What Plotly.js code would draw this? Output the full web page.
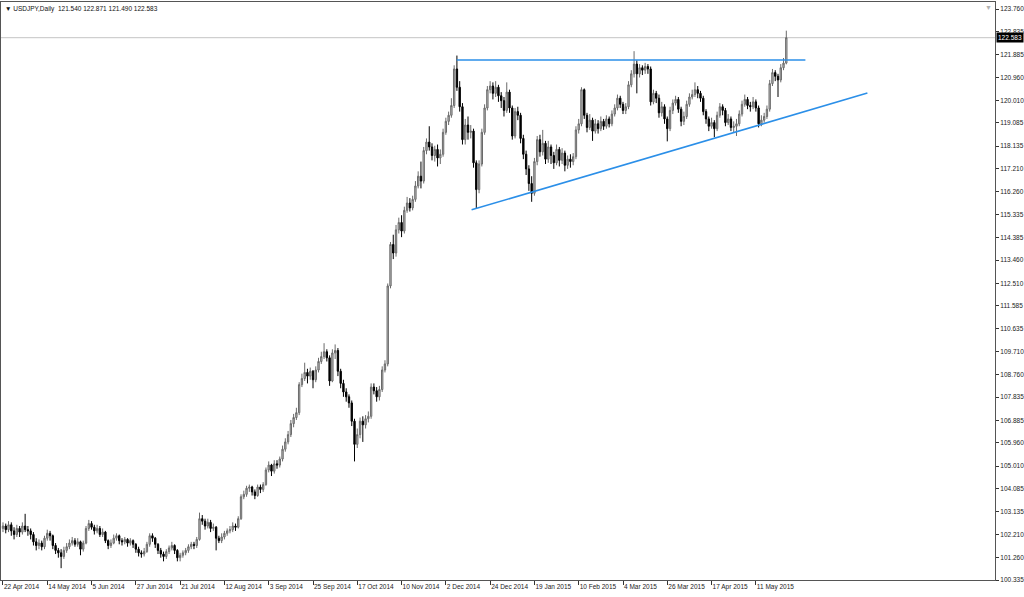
<!DOCTYPE html>
<html>
<head>
<meta charset="utf-8">
<script src="https://cdn.plot.ly/plotly-3.0.1.min.js"></script>
<style>html,body{margin:0;padding:0;background:#fff;}#chart{width:1024px;height:597px;}</style>
</head>
<body>
<div id="chart"></div>
<script>
// USDJPY daily bars, 22 Apr 2014 .. 26 May 2015
const openP = [102.45,102.55,102.40,102.60,102.35,102.20,102.45,102.30,102.55,102.40,
102.35,102.20,101.90,101.75,101.85,101.70,102.05,102.25,102.15,101.75,
101.55,101.45,101.30,101.55,101.70,101.85,101.95,101.80,101.90,101.60,
101.85,102.45,102.65,102.50,102.35,102.45,102.20,102.30,101.95,101.75,
101.85,102.05,102.15,101.95,101.90,102.00,101.85,101.95,101.80,101.60,
101.45,101.40,101.50,101.80,102.15,102.05,101.80,101.55,101.40,101.30,
101.50,101.65,101.75,101.55,101.25,101.35,101.45,101.55,101.70,101.80,
101.75,102.00,102.85,102.75,102.55,102.70,102.45,102.50,102.05,101.95,
102.10,102.25,102.35,102.40,102.55,102.50,102.85,103.75,103.85,104.10,
104.15,103.95,103.80,104.15,104.05,104.25,104.85,105.05,104.80,105.10,
105.05,105.30,105.70,106.00,106.30,106.75,107.00,107.20,108.35,108.60,
108.85,108.70,108.90,108.55,108.95,109.30,109.50,109.70,109.45,108.50,
109.65,109.75,108.90,108.40,108.05,107.85,107.60,106.85,105.90,106.30,
106.85,106.70,106.95,107.05,108.25,108.10,107.85,108.15,108.95,109.20,
112.40,114.10,113.75,114.70,115.00,114.65,115.50,115.80,115.60,115.95,
116.50,116.90,116.70,117.95,118.30,118.10,117.75,118.00,117.65,117.80,
118.70,119.15,119.40,119.80,121.30,120.55,119.75,118.40,119.00,118.70,
118.75,117.45,116.35,117.40,118.70,119.70,120.45,120.60,120.30,120.55,
120.20,120.00,119.60,120.35,119.70,118.55,119.55,119.40,118.45,117.80,
117.20,116.60,116.20,117.50,118.40,117.90,118.25,117.60,118.10,117.75,
117.45,118.00,117.55,117.85,117.35,117.60,117.50,117.70,118.80,119.05,
120.45,119.40,118.90,119.20,118.75,119.05,118.85,119.15,118.95,119.25,
119.05,119.45,119.70,120.10,119.85,119.60,119.75,120.65,121.10,121.50,
121.10,121.35,121.25,121.40,121.30,119.95,120.30,120.10,119.50,119.75,
119.25,118.85,119.60,119.90,120.05,119.65,119.15,119.35,119.85,120.15,
120.25,120.45,120.30,120.10,119.55,119.25,118.95,119.10,118.85,119.40,
119.75,119.60,119.10,119.25,118.90,118.95,119.05,119.45,119.85,120.05,
119.80,119.75,119.95,119.70,119.05,119.20,119.35,119.65,120.70,121.15,
121.00,120.85,121.35,121.54];

const highP = [102.70,102.65,102.75,102.70,102.50,102.60,102.55,102.70,103.05,102.55,
102.45,102.30,102.05,102.00,101.95,102.15,102.40,102.35,102.20,101.85,
101.65,101.60,101.70,101.85,102.00,102.10,102.05,102.05,101.95,101.95,
102.55,102.80,102.75,102.60,102.60,102.55,102.45,102.35,102.00,102.00,
102.20,102.25,102.20,102.05,102.10,102.05,102.05,102.00,101.85,101.70,
101.55,101.65,101.90,102.25,102.25,102.10,101.85,101.65,101.50,101.60,
101.75,101.90,101.80,101.60,101.45,101.55,101.65,101.80,101.90,101.90,
102.10,103.10,103.00,102.85,102.85,102.80,102.65,102.55,102.15,102.25,
102.35,102.45,102.55,102.70,102.65,102.95,103.85,104.00,104.20,104.25,
104.20,104.05,104.25,104.25,104.35,104.95,105.20,105.10,105.25,105.25,
105.40,105.85,106.15,106.45,106.90,107.15,107.40,108.45,108.80,109.25,
109.00,109.05,108.95,109.10,109.45,109.70,110.05,109.80,109.55,109.80,
110.00,109.85,109.00,108.55,108.20,107.95,107.70,106.95,106.55,107.00,
107.05,107.10,107.25,108.40,108.40,108.25,108.30,109.10,109.35,112.50,
114.20,114.50,114.90,115.20,115.30,115.65,116.05,116.00,116.10,116.70,
117.10,117.50,118.10,118.45,118.95,118.25,118.15,118.20,118.00,118.85,
119.30,119.55,120.10,121.45,121.85,120.80,119.90,119.25,119.35,119.00,
118.85,117.55,117.55,118.85,119.85,120.60,120.80,120.75,120.80,120.65,
120.35,120.15,120.75,120.45,119.80,119.70,119.75,119.50,118.60,117.95,
117.35,116.90,117.65,118.55,118.60,118.80,118.35,118.35,118.20,117.90,
118.20,118.10,118.05,117.95,117.75,117.80,117.85,118.95,119.25,120.55,
120.50,119.50,119.45,119.30,119.25,119.20,119.35,119.25,119.40,119.35,
119.60,119.85,120.25,120.20,119.95,119.90,120.80,121.25,122.03,121.65,
121.50,121.45,121.55,121.50,121.40,120.45,120.40,120.25,119.95,119.85,
119.35,119.75,120.05,120.20,120.15,119.75,119.55,120.00,120.30,120.45,
120.75,120.60,120.40,120.20,119.65,119.35,119.30,119.20,119.55,119.90,
119.85,119.70,119.45,119.35,119.15,119.25,119.60,120.00,120.25,120.15,
119.95,120.15,120.05,119.80,119.40,119.50,119.80,120.85,121.30,121.25,
121.10,121.50,121.75,122.871];

const lowP = [102.30,102.25,102.30,102.15,102.00,102.10,102.10,102.20,102.30,102.15,
102.00,101.75,101.55,101.60,101.55,101.60,101.95,101.95,101.60,101.40,
101.25,100.82,101.20,101.45,101.60,101.75,101.70,101.70,101.35,101.50,
101.80,102.35,102.40,102.20,102.25,102.10,102.10,101.85,101.60,101.65,
101.80,101.95,101.80,101.75,101.80,101.70,101.75,101.65,101.45,101.30,
101.25,101.30,101.45,101.70,101.90,101.65,101.40,101.25,101.10,101.20,
101.40,101.55,101.40,101.10,101.10,101.25,101.35,101.45,101.60,101.60,
101.65,101.95,102.60,102.40,102.45,102.30,102.35,101.55,101.85,101.85,
102.00,102.15,102.25,102.30,102.35,102.45,102.80,103.65,103.75,103.95,
103.80,103.65,103.75,103.90,103.95,104.20,104.75,104.60,104.70,104.90,
104.95,105.20,105.60,105.90,106.20,106.60,106.90,107.10,108.25,108.50,
108.40,108.55,108.20,108.45,108.85,109.20,109.40,109.30,108.30,108.45,
109.40,108.70,108.20,107.85,107.65,107.40,106.65,105.20,105.75,106.15,
106.00,106.55,106.80,106.95,107.95,107.65,107.70,108.05,108.85,109.10,
112.30,113.50,113.60,114.55,114.40,114.55,115.40,115.45,115.50,115.85,
116.40,116.40,116.60,117.80,117.95,117.55,117.50,117.30,117.40,117.70,
118.60,119.00,119.30,119.70,120.40,119.55,118.20,118.20,118.40,118.45,
117.25,115.57,116.20,117.30,118.60,119.60,120.30,120.05,120.15,119.95,
119.70,119.35,119.50,119.50,118.40,118.45,119.20,118.25,117.60,116.95,
116.30,115.85,116.10,117.35,117.70,117.75,117.40,117.45,117.40,117.20,
117.35,117.30,117.40,117.10,117.20,117.25,117.35,117.60,118.65,118.95,
119.25,118.70,118.80,118.35,118.65,118.65,118.75,118.80,118.85,118.90,
118.95,119.35,119.60,119.70,119.45,119.45,119.65,120.55,120.95,120.30,
120.95,121.05,121.10,121.10,119.80,119.85,119.90,119.30,119.35,119.05,
118.33,118.75,119.45,119.80,119.50,118.95,119.00,119.25,119.75,120.05,
120.15,120.10,119.95,119.40,119.05,118.75,118.85,118.50,118.75,119.30,
119.40,118.95,119.00,118.75,118.70,118.55,118.95,119.35,119.75,119.65,
119.55,119.65,119.55,118.90,118.95,119.10,119.25,119.55,120.60,120.80,
120.15,120.75,121.25,121.49];

const closeP = [102.55,102.40,102.60,102.35,102.20,102.45,102.30,102.55,102.40,102.35,
102.20,101.90,101.75,101.85,101.70,102.05,102.25,102.15,101.75,101.55,
101.45,101.30,101.55,101.70,101.85,101.95,101.80,101.90,101.60,101.85,
102.45,102.65,102.50,102.35,102.45,102.20,102.30,101.95,101.75,101.85,
102.05,102.15,101.95,101.90,102.00,101.85,101.95,101.80,101.60,101.45,
101.40,101.50,101.80,102.15,102.05,101.80,101.55,101.40,101.30,101.50,
101.65,101.75,101.55,101.25,101.35,101.45,101.55,101.70,101.80,101.75,
102.00,102.85,102.75,102.55,102.70,102.45,102.50,102.05,101.95,102.10,
102.25,102.35,102.40,102.55,102.50,102.85,103.75,103.85,104.10,104.15,
103.95,103.80,104.15,104.05,104.25,104.85,105.05,104.80,105.10,105.05,
105.30,105.70,106.00,106.30,106.75,107.00,107.20,108.35,108.60,108.85,
108.70,108.90,108.55,108.95,109.30,109.50,109.70,109.45,108.50,109.65,
109.75,108.90,108.40,108.05,107.85,107.60,106.85,105.90,106.30,106.85,
106.70,106.95,107.05,108.25,108.10,107.85,108.15,108.95,109.20,112.40,
114.10,113.75,114.70,115.00,114.65,115.50,115.80,115.60,115.95,116.50,
116.90,116.70,117.95,118.30,118.10,117.75,118.00,117.65,117.80,118.70,
119.15,119.40,119.80,121.30,120.55,119.75,118.40,119.00,118.70,118.75,
117.45,116.35,117.40,118.70,119.70,120.45,120.60,120.30,120.55,120.20,
120.00,119.60,120.35,119.70,118.55,119.55,119.40,118.45,117.80,117.20,
116.60,116.20,117.50,118.40,117.90,118.25,117.60,118.10,117.75,117.45,
118.00,117.55,117.85,117.35,117.60,117.50,117.70,118.80,119.05,120.45,
119.40,118.90,119.20,118.75,119.05,118.85,119.15,118.95,119.25,119.05,
119.45,119.70,120.10,119.85,119.60,119.75,120.65,121.10,121.50,121.10,
121.35,121.25,121.40,121.30,119.95,120.30,120.10,119.50,119.75,119.25,
118.85,119.60,119.90,120.05,119.65,119.15,119.35,119.85,120.15,120.25,
120.45,120.30,120.10,119.55,119.25,118.95,119.10,118.85,119.40,119.75,
119.60,119.10,119.25,118.90,118.95,119.05,119.45,119.85,120.05,119.80,
119.75,119.95,119.70,119.05,119.20,119.35,119.65,120.70,121.15,121.00,
120.85,121.35,121.54,122.583];

// date labels on the time scale (bar number of each label)
const dateTickBars = [0,16,32,48,64,80,96,112,128,144,160,176,192,208,224,240,256,272];
const dateTickLabels = ['22 Apr 2014','14 May 2014','5 Jun 2014','27 Jun 2014','21 Jul 2014','12 Aug 2014',
  '3 Sep 2014','25 Sep 2014','17 Oct 2014','10 Nov 2014','2 Dec 2014','24 Dec 2014',
  '19 Jan 2015','10 Feb 2015','4 Mar 2015','26 Mar 2015','17 Apr 2015','11 May 2015'];

// price scale labels
const priceTicks = [123.760,122.835,121.885,120.960,120.010,119.085,118.135,117.210,116.260,115.335,
  114.385,113.460,112.510,111.585,110.635,109.710,108.760,107.835,106.885,105.960,
  105.010,104.085,103.135,102.210,101.260,100.335];

// drawn trend lines (bar number, price)
const resistanceBars = [163.9, 289.9];
const resistancePrices = [121.67, 121.67];
const supportBars = [169.3, 312.3];
const supportPrices = [115.52, 120.31];

const headerText = 'USDJPY,Daily  121.540 122.871 121.490 122.583';

const bars = closeP.map((_, i) => i);
const lastClose = closeP[closeP.length - 1];
const FONT = 'Liberation Sans, Arial, sans-serif';

const traces = [
  {
    type: 'candlestick',
    x: bars, open: openP, high: highP, low: lowP, close: closeP,
    increasing: {line: {color: '#6a6a6a', width: 1}, fillcolor: '#c4c4c4'},
    decreasing: {line: {color: '#000000', width: 1}, fillcolor: '#000000'},
    whiskerwidth: 0,
    hoverinfo: 'skip'
  },
  {
    type: 'scatter', mode: 'lines', x: resistanceBars, y: resistancePrices,
    line: {color: '#2b8fe8', width: 1.6}, hoverinfo: 'skip'
  },
  {
    type: 'scatter', mode: 'lines', x: supportBars, y: supportPrices,
    line: {color: '#2b8fe8', width: 1.6}, hoverinfo: 'skip'
  }
];

const layout = {
  width: 1024, height: 597,
  margin: {l: 1, r: 29, t: 2, b: 17},
  paper_bgcolor: '#ffffff', plot_bgcolor: '#ffffff',
  showlegend: false,
  xaxis: {
    range: [-0.72, 358.4],
    tickmode: 'array', tickvals: dateTickBars, ticktext: dateTickLabels,
    tickangle: 0,
    ticks: 'outside', ticklen: 4, tickwidth: 1, tickcolor: '#333',
    ticklabelposition: 'outside right',
    tickfont: {family: FONT, size: 6.5, color: '#222'},
    showgrid: false, zeroline: false,
    showline: true, linecolor: '#555', linewidth: 1, mirror: true,
    rangeslider: {visible: false}, fixedrange: true
  },
  yaxis: {
    side: 'right',
    range: [100.335, 124.047],
    tickmode: 'array', tickvals: priceTicks, ticktext: priceTicks.map(v => v.toFixed(3)),
    ticks: 'outside', ticklen: 3, tickwidth: 1, tickcolor: '#333',
    tickfont: {family: FONT, size: 6.5, color: '#222'},
    showgrid: false, zeroline: false,
    showline: true, linecolor: '#555', linewidth: 1, mirror: true,
    fixedrange: true
  },
  shapes: [
    {type: 'line', xref: 'paper', x0: 0, x1: 1, yref: 'y', y0: lastClose, y1: lastClose,
     line: {color: '#c4c4c4', width: 1}, layer: 'below'}
  ],
  annotations: [
    {xref: 'paper', yref: 'paper', x: 0.002, y: 0.999, xanchor: 'left', yanchor: 'top',
     text: '\u25BC ' + headerText, showarrow: false,
     font: {family: FONT, size: 6.5, color: '#111'}},
    {xref: 'paper', yref: 'y', x: 1, xshift: 1, y: lastClose, xanchor: 'left', yanchor: 'middle',
     text: lastClose.toFixed(3), showarrow: false, bgcolor: '#000000', borderpad: 1,
     font: {family: FONT, size: 6.5, color: '#ffffff'}},
    {xref: 'paper', yref: 'paper', x: 0.993, y: 1, xanchor: 'center', yanchor: 'top',
     text: '\u25BC', showarrow: false, font: {family: FONT, size: 7, color: '#b0b0b0'}}
  ]
};

Plotly.newPlot('chart', traces, layout, {staticPlot: true, displayModeBar: false});
</script>
</body>
</html>
